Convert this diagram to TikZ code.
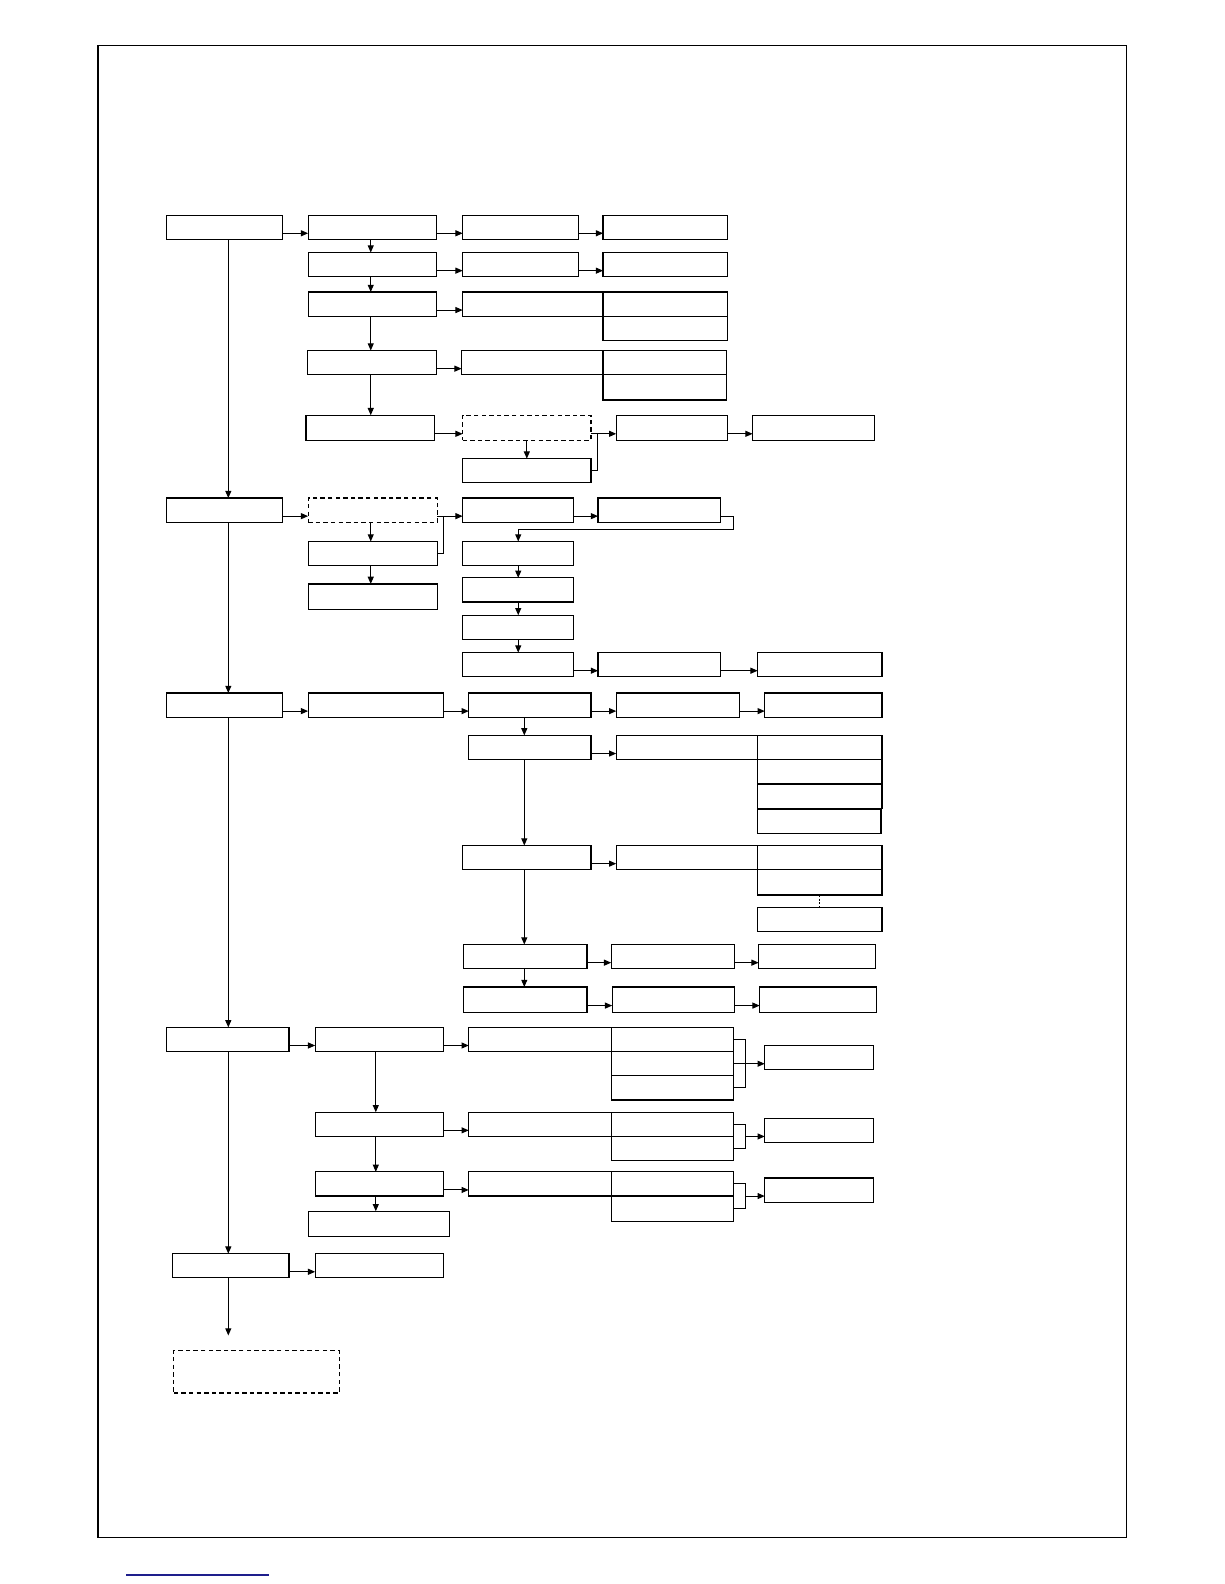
\documentclass[tikz,border=0pt]{standalone}
\usepackage{tikz}
\usetikzlibrary{arrows.meta}
\definecolor{linkblue}{RGB}{30,30,140}

\begin{document}
\begin{tikzpicture}[
    x=0.505pt, y=-0.505pt,
    box/.style={rectangle, draw, line width=0.6pt, anchor=north west, inner sep=0pt, outer sep=0pt,
                minimum height=12.1pt, minimum width=#1*0.505pt},
    tallbox/.style={box=#1, minimum height=12.6pt},
    dbox/.style={box=#1, dash pattern=on 2.2pt off 1.6pt},
    arrow/.style={-{Triangle[length=3.6pt, width=3pt]}, line width=0.5pt},
    link/.style={line width=0.5pt}
]
\useasboundingbox (0,0) rectangle (1212,1568);
\draw[line width=0.6pt] (97,45) rectangle (1115,1522);
\draw[line width=0.9pt, color=linkblue] (125,1559) -- (266,1559);

% main column
\node[box=115] (m1) at (165,213) {};
\node[box=115] (m2) at (165,493) {};
\node[box=115] (m3) at (165,686) {};
\node[box=121] (m4) at (165,1017) {};
\node[box=115] (m5) at (171,1241) {};
\node[dbox=164, minimum height=21.2pt] (m6) at (172,1337) {};
\coordinate (spine) at (226,0);
\coordinate (m6in) at (226,1322);

% first branch
\node[box=127] (b1) at (305,213) {};
\node[box=115] (c1) at (458,213) {};
\node[box=123] (d1) at (597,213) {};
\node[box=127] (b2) at (305,250) {};
\node[box=115] (c2) at (458,250) {};
\node[box=123] (d2) at (597,250) {};
\node[box=127] (b3) at (305,289) {};
\node[box=139] (c3) at (458,289) {};
\node[box=123] (d3a) at (597,289) {};
\node[box=123] (d3b) at (597,313) {};
\node[box=128] (b4) at (304,347) {};
\node[box=140] (c4) at (457,347) {};
\node[box=122] (d4a) at (597,347) {};
\node[tallbox=122] (d4b) at (597,371) {};
\node[tallbox=127] (b5) at (303,411) {};
\node[dbox=127, minimum height=12.6pt] (c5) at (458,411) {};
\node[box=127] (c5b) at (458,454) {};
\node[tallbox=110] (d5) at (610,411) {};
\node[tallbox=121] (e5) at (745,411) {};
\coordinate (bcol) at (367,0);

% second branch
\node[dbox=128] (f1) at (305,493) {};
\node[box=128] (f2) at (305,536) {};
\node[tallbox=128] (f3) at (305,578) {};
\node[box=110] (g1) at (458,493) {};
\node[box=121] (g2) at (592,493) {};
\node[box=110] (g3) at (458,536) {};
\node[box=110] (g4) at (458,572) {};
\node[box=110] (g5) at (458,609) {};
\node[box=110] (g6) at (458,646) {};
\node[box=121] (g7) at (592,646) {};
\node[box=123] (g8) at (750,646) {};

% third branch
\node[box=134] (h1) at (305,686) {};
\node[box=121] (i1) at (464,686) {};
\node[box=122] (j1) at (610,686) {};
\node[box=116] (k1) at (757,686) {};
\node[box=121] (i2) at (464,728) {};
\node[box=140] (j2) at (610,728) {};
\node[box=123] (k2a) at (750,728) {};
\node[box=123] (k2b) at (750,752) {};
\node[box=123] (k2c) at (750,776) {};
\node[box=122] (k2d) at (750,801) {};
\node[box=127] (i3) at (458,837) {};
\node[box=140] (j3) at (610,837) {};
\node[box=123] (k3a) at (750,837) {};
\node[tallbox=123] (k3b) at (750,861) {};
\node[box=123] (k3c) at (750,898) {};
\node[box=122] (i4) at (459,935) {};
\node[box=122] (j4) at (605,935) {};
\node[box=116] (k4) at (751,935) {};
\node[tallbox=122] (i5) at (459,977) {};
\node[tallbox=121] (j5) at (606,977) {};
\node[tallbox=116] (k5) at (752,977) {};
\coordinate (icol) at (519,0);

% fourth branch
\node[box=127] (n1) at (312,1017) {};
\node[box=141] (o1) at (464,1017) {};
\node[box=121] (p1a) at (605,1017) {};
\node[box=121] (p1b) at (605,1041) {};
\node[box=121] (p1c) at (605,1065) {};
\node[box=108] (q1) at (757,1035) {};
\node[box=127] (n2) at (312,1101) {};
\node[box=141] (o2) at (464,1101) {};
\node[box=121] (p2a) at (605,1101) {};
\node[box=121] (p2b) at (605,1125) {};
\node[box=108] (q2) at (757,1107) {};
\node[box=127] (n3) at (312,1160) {};
\node[box=141] (o3) at (464,1160) {};
\node[box=121] (p3a) at (605,1160) {};
\node[tallbox=121] (p3b) at (605,1184) {};
\node[box=108] (q3) at (757,1166) {};
\node[tallbox=140] (n4) at (305,1199) {};
\coordinate (ncol) at (372,0);

% fifth branch
\node[box=127] (n5) at (312,1241) {};

\draw[arrow] (m1.south -| spine) -- (m2.north -| spine);
\draw[arrow] (m2.south -| spine) -- (m3.north -| spine);
\draw[arrow] (m3.south -| spine) -- (m4.north -| spine);
\draw[arrow] (m4.south -| spine) -- (m5.north -| spine);
\draw[arrow] (m5.south -| spine) -- (m6in);

\draw[arrow] ([yshift=-3pt]m1.east) -- ([yshift=-3pt]b1.west);
\draw[arrow] ([yshift=-3pt]b1.east) -- ([yshift=-3pt]c1.west);
\draw[arrow] ([yshift=-3pt]c1.east) -- ([yshift=-3pt]d1.west);
\draw[arrow] ([yshift=-3pt]b2.east) -- ([yshift=-3pt]c2.west);
\draw[arrow] ([yshift=-3pt]c2.east) -- ([yshift=-3pt]d2.west);
\draw[arrow] ([yshift=-3pt]b3.east) -- ([yshift=-3pt]c3.west);
\draw[arrow] ([yshift=-3pt]b4.east) -- ([yshift=-3pt]c4.west);
\draw[arrow] ([yshift=-3pt]b5.east) -- ([yshift=-3pt]c5.west);
\draw[arrow] (b1.south -| bcol) -- (b2.north -| bcol);
\draw[arrow] (b2.south -| bcol) -- (b3.north -| bcol);
\draw[arrow] (b3.south -| bcol) -- (b4.north -| bcol);
\draw[arrow] (b4.south -| bcol) -- (b5.north -| bcol);
\draw[arrow] (c5.south) -- (c5b.north);
\draw[link] (c5b.east) -- ++(6,0) |- ([yshift=-3pt]c5.east);
\draw[arrow] ([yshift=-3pt]c5.east) -- ([yshift=-3pt]d5.west);
\draw[arrow] ([yshift=-3pt]d5.east) -- ([yshift=-3pt]e5.west);

\draw[arrow] ([yshift=-3pt]m2.east) -- ([yshift=-3pt]f1.west);
\draw[arrow] (f1.south -| bcol) -- (f2.north -| bcol);
\draw[arrow] (f2.south -| bcol) -- (f3.north -| bcol);
\draw[link] (f2.east) -- ++(6,0) |- ([yshift=-3pt]f1.east);
\draw[arrow] ([yshift=-3pt]f1.east) -- ([yshift=-3pt]g1.west);
\draw[arrow] ([yshift=-3pt]g1.east) -- ([yshift=-3pt]g2.west);
\draw[arrow] ([yshift=-3pt]g2.east) -- ++(13,0) -- ++(0,13) -| (g3.north);
\draw[arrow] (g3.south) -- (g4.north);
\draw[arrow] (g4.south) -- (g5.north);
\draw[arrow] (g5.south) -- (g6.north);
\draw[arrow] ([yshift=-3pt]g6.east) -- ([yshift=-3pt]g7.west);
\draw[arrow] ([yshift=-3pt]g7.east) -- ([yshift=-3pt]g8.west);

\draw[arrow] ([yshift=-3pt]m3.east) -- ([yshift=-3pt]h1.west);
\draw[arrow] ([yshift=-3pt]h1.east) -- ([yshift=-3pt]i1.west);
\draw[arrow] ([yshift=-3pt]i1.east) -- ([yshift=-3pt]j1.west);
\draw[arrow] ([yshift=-3pt]j1.east) -- ([yshift=-3pt]k1.west);
\draw[arrow] (i1.south -| icol) -- (i2.north -| icol);
\draw[arrow] ([yshift=-3pt]i2.east) -- ([yshift=-3pt]j2.west);
\draw[arrow] (i2.south -| icol) -- (i3.north -| icol);
\draw[arrow] ([yshift=-3pt]i3.east) -- ([yshift=-3pt]j3.west);
\draw[dash pattern=on 1pt off 0.8pt, line width=0.5pt] (k3b.south) -- (k3c.north);
\draw[arrow] (i3.south -| icol) -- (i4.north -| icol);
\draw[arrow] ([yshift=-3pt]i4.east) -- ([yshift=-3pt]j4.west);
\draw[arrow] ([yshift=-3pt]j4.east) -- ([yshift=-3pt]k4.west);
\draw[arrow] (i4.south -| icol) -- (i5.north -| icol);
\draw[arrow] ([yshift=-3pt]i5.east) -- ([yshift=-3pt]j5.west);
\draw[arrow] ([yshift=-3pt]j5.east) -- ([yshift=-3pt]k5.west);

\draw[arrow] ([yshift=-3pt]m4.east) -- ([yshift=-3pt]n1.west);
\draw[arrow] ([yshift=-3pt]n1.east) -- ([yshift=-3pt]o1.west);
\draw[link] (p1a.east) -- ++(12,0) |- (p1c.east);
\draw[arrow] (p1b.east) -- (p1b.east -| q1.west);
\draw[arrow] (n1.south -| ncol) -- (n2.north -| ncol);
\draw[arrow] ([yshift=-3pt]n2.east) -- ([yshift=-3pt]o2.west);
\draw[link] (p2a.east) -- ++(12,0) coordinate (t2) |- (p2b.east);
\draw[arrow] (p2a.south east -| t2) -- (p2a.south east -| q2.west);
\draw[arrow] (n2.south -| ncol) -- (n3.north -| ncol);
\draw[arrow] ([yshift=-3pt]n3.east) -- ([yshift=-3pt]o3.west);
\draw[link] (p3a.east) -- ++(12,0) coordinate (t3) |- (p3b.east);
\draw[arrow] (p3a.south east -| t3) -- (p3a.south east -| q3.west);
\draw[arrow] (n3.south -| ncol) -- (n4.north -| ncol);

\draw[arrow] ([yshift=-3pt]m5.east) -- ([yshift=-3pt]n5.west);
\end{tikzpicture}
\end{document}
